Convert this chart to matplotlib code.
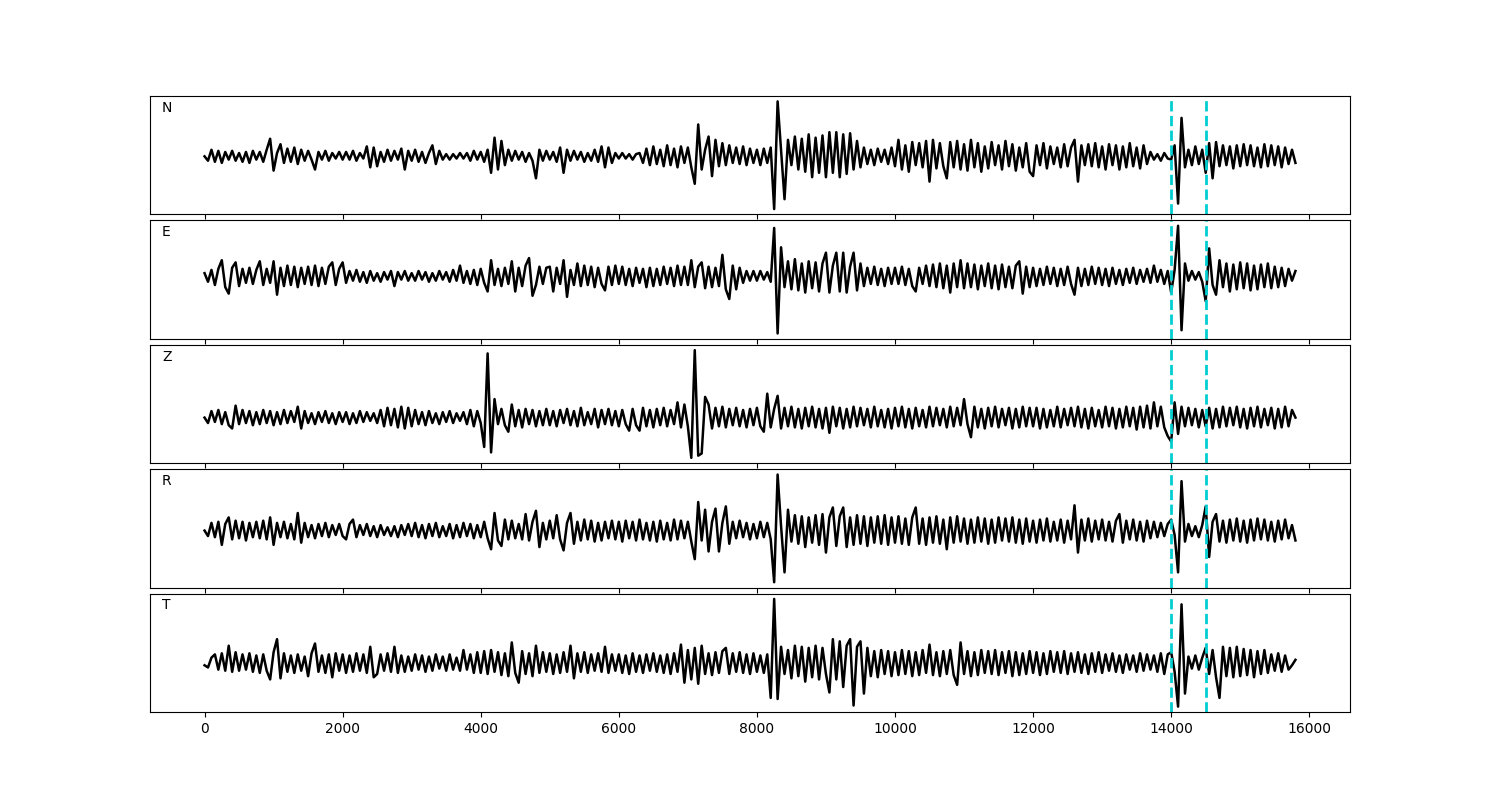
import matplotlib.pyplot as plt
import numpy as np

dt = 50  # sample spacing
picks = [14000, 14500]
names = ["N", "E", "Z", "R", "T"]

tr_n = [0,-4,6,-5,5,-6,4,-3,5,-4,3,-5,4,-6,5,-3,4,-5,6,16,
        -13,3,11,-6,7,-5,8,-7,6,-4,5,-3,-12,4,-3,5,-4,3,-2,4,
        -3,4,-3,5,-4,3,-2,9,-10,8,-9,4,-5,6,-4,5,-3,7,-12,5,
        -4,6,-5,4,-6,3,10,-7,5,-3,2,-3,2,-2,3,-2,3,-4,5,-3,
        4,-5,6,-15,17,-12,14,-8,6,-4,5,-3,4,-5,3,-4,-20,6,-4,5,
        -3,4,-5,8,-15,6,-4,5,-3,4,-5,3,-4,6,-5,9,-10,8,-6,3,
        -2,3,-2,2,-3,2,3,-6,7,-8,9,-7,6,-9,10,-8,7,-10,9,-6,
        8,-10,-25,29,-12,6,18,-18,15,-9,12,-8,10,-6,8,-7,9,-8,7,-6,
        6,-8,7,-6,8,-48,50,5,-39,15,-8,18,-12,16,-14,20,-19,17,-15,19,
        -19,22,-15,22,-19,20,-16,21,-12,14,-10,8,-7,6,-8,7,-5,6,-7,8,
        -9,15,-12,10,-14,13,-8,12,-10,14,-23,15,-11,12,-9,-20,13,-10,14,-12,
        11,-13,15,-10,12,-14,9,-11,13,-8,10,-12,14,-9,11,-13,8,-10,12,-14,
        -18,10,-8,12,-11,9,-7,8,-10,11,-9,8,15,-23,10,-8,11,-9,12,-10,
        9,-12,11,-8,10,-12,9,-10,12,-9,8,-11,10,-7,4,-3,2,-4,3,-2,
        -3,10,-43,35,-10,6,-8,9,-7,6,-15,12,-20,13,-9,10,-8,9,-11,10,
        -9,11,-8,10,-9,8,-10,11,-9,10,-8,9,-10,8,-7,6,-6]

tr_e = [3,-5,6,-8,7,15,-10,-16,8,13,-9,7,-6,8,-7,6,14,-8,7,-6,
        14,-17,8,-9,10,-8,9,-10,8,-7,9,-8,10,-9,8,-7,9,13,-8,7,
        13,-6,5,-4,6,-5,4,-6,5,-4,3,-5,4,-3,5,-9,4,-3,5,-4,
        3,-4,5,-3,4,-5,3,-4,5,-3,4,-5,6,-4,10,-6,5,-7,6,-8,
        7,-6,-14,15,-8,7,-9,8,-7,14,-14,8,-9,10,17,-18,-8,9,-7,8,
        9,-14,8,-7,15,-19,6,-8,12,-9,10,-8,9,-10,8,-7,-13,9,-8,10,
        -7,9,-8,7,-9,8,-6,7,-10,8,-9,7,-8,9,-7,8,-9,10,-8,9,
        -8,15,-10,9,13,-11,9,-10,8,-9,20,-12,-21,10,-12,8,-6,5,-4,5,
        -4,5,-3,4,-5,45,-53,27,-10,14,-12,16,-13,12,-15,14,-11,13,-14,12,
        22,-15,10,22,-14,22,-15,9,22,-13,12,-9,8,-7,9,-8,7,-9,8,-7,
        8,-7,9,-8,7,-9,-14,8,-7,10,-9,11,-10,12,-11,10,-15,12,-10,15,
        -11,12,-10,11,-12,10,-9,12,-11,10,-12,11,-10,9,-11,10,14,-16,9,-10,
        8,-9,7,-8,9,-7,8,-9,7,-8,9,-7,-17,8,-9,7,-8,9,-7,8,
        -8,7,-9,8,-7,6,-8,7,-6,8,-7,6,-5,7,-6,10,-5,6,-7,5,
        -15,6,47,-50,12,-4,5,-3,4,-5,-23,26,-8,-17,15,-10,12,-14,11,-12,
        13,-11,12,-13,10,-12,11,-10,12,-11,9,-10,8,-9,7,-4,5]

tr_z = [0,-5,6,-4,7,-6,5,-7,-10,11,-6,7,-5,6,-7,5,-6,7,-5,6,
        -7,5,-6,7,-5,6,-4,10,-10,6,-5,4,-6,5,-4,6,-5,4,-6,5,
        -4,5,-6,4,-5,6,-4,5,-3,4,-5,7,-8,9,-7,8,-9,10,-10,9,
        -8,7,-6,5,-7,6,-5,4,-6,5,-4,6,-5,4,-3,5,-6,7,-8,6,
        -5,-27,59,-32,17,-6,8,-7,-13,12,-8,7,-9,8,-6,7,-8,6,-7,8,
        -7,6,-8,7,-5,8,-7,6,-8,9,-7,5,-6,8,-9,7,-6,8,-7,6,
        -8,7,-6,-12,8,-7,-12,9,-8,7,-9,8,-7,9,-8,7,-6,14,-9,12,
        -8,-37,62,-35,-33,19,12,-10,9,-8,10,-9,8,-7,9,-8,7,-9,8,-7,
        9,-8,-13,22,-9,8,20,-10,9,-8,10,-9,8,-10,9,-8,10,-9,8,-10,
        9,-14,10,-8,9,-10,8,-9,10,-8,9,-7,8,-9,10,-8,7,-9,8,-10,
        9,-8,10,-9,8,-10,9,-8,7,-9,10,-8,9,-7,8,-9,10,-8,9,-7,
        17,-6,-18,10,-9,8,-10,9,-8,10,-9,8,-7,9,-10,8,-9,10,-8,9,
        -8,9,-10,8,-9,7,-8,10,-9,8,-7,9,-8,10,-9,8,-10,9,-8,7,
        -9,10,-8,9,-10,8,-9,10,-8,9,-11,10,-9,11,-10,14,-8,10,-9,-17,
        -22,14,-15,10,-8,9,-7,8,-9,7,-8,9,-10,8,-9,10,-8,9,-7,10,
        -9,8,-10,9,-8,10,-9,8,-7,9,-10,8,-9,10,-8,7,0]

tr_r = [0,-5,7,-6,8,-13,6,12,-8,9,-7,8,-9,7,-6,8,-7,9,-8,12,
        -13,7,-6,8,-7,6,-8,16,-11,7,-6,5,-7,6,-5,7,-6,5,-4,6,
        -5,-8,6,10,-6,5,-4,6,-5,4,-6,5,-4,3,-5,4,-6,5,-4,6,
        -5,7,-6,5,-7,6,-5,7,-6,4,-5,6,-7,5,-6,7,-5,6,-7,5,
        -6,8,-7,-17,16,-9,-14,10,-8,9,-7,6,-8,15,-9,8,18,-15,7,-8,
        9,-7,14,-8,-18,7,16,-12,8,-9,10,-8,9,-10,7,-9,8,-7,9,-8,
        8,-10,9,-7,8,-9,10,-8,7,-9,8,-10,9,-8,7,-9,10,-8,9,-7,
        8,-10,-26,26,-9,19,-19,8,20,-19,7,22,-12,8,-7,9,-6,7,-8,6,
        -7,8,-6,7,-8,-47,51,4,-38,19,-10,14,-12,13,-15,12,-11,14,-13,15,
        -20,12,21,-14,13,21,-15,12,-13,14,-12,13,-14,12,-11,13,-12,14,-13,12,
        -11,13,-12,11,-13,12,21,-12,11,-13,12,-11,13,-12,10,-17,12,-11,13,-10,
        11,-12,10,-11,12,-10,11,-12,10,-11,12,-9,11,-10,12,-11,10,-12,11,-10,
        9,-11,10,-9,11,-10,8,-9,10,-11,9,-8,23,-20,10,-9,11,-10,9,-8,
        10,-9,8,-10,9,15,-11,9,-8,10,-9,8,-10,9,-7,8,-6,7,-5,6,
        10,-4,-38,45,-10,6,-5,4,-6,5,22,-24,8,15,-10,9,-11,10,-9,11,
        -10,9,-11,10,-9,11,-8,10,-9,8,-10,9,-8,10,-7,5,-9]

tr_t = [-2,-4,5,8,-6,9,-7,16,-8,10,-7,8,-6,9,-8,7,-9,8,-7,-15,
        10,22,-14,9,-8,7,-9,8,-7,6,-12,9,18,-8,7,-9,8,-13,9,-7,
        8,-9,7,-8,9,-7,8,-9,15,-13,-10,8,-7,9,-8,15,-9,7,-8,6,
        -7,8,-6,7,-8,6,-7,8,-5,6,-7,8,-6,5,-7,12,-6,8,-9,10,
        -9,11,-10,12,-8,10,-11,9,-12,19,-9,-18,11,-10,9,-12,16,-9,10,-8,
        9,-10,8,-9,10,-8,16,-14,9,-8,10,-9,8,-7,9,-8,15,-9,8,-7,
        8,-9,7,-10,9,-8,7,-9,8,-7,9,-8,7,-9,8,-10,9,-8,17,-18,
        12,-15,14,-19,16,-10,9,-11,10,-9,11,14,-10,9,-8,10,-9,8,-10,9,
        -8,7,-9,8,-32,59,-33,15,-10,12,-14,16,-12,15,-17,14,-13,16,-15,14,
        -10,-27,22,-15,20,-22,16,22,-39,15,20,-28,14,-12,11,-13,12,-10,11,-12,
        10,-11,12,-10,11,-12,10,-11,12,-9,17,-11,10,-12,11,-10,12,-11,-20,19,
        -10,11,-12,10,-11,12,-9,11,-10,12,-11,10,-9,11,-12,10,-11,9,-10,11,
        -9,10,-11,9,-10,11,-8,10,-9,11,-10,9,-8,10,-9,8,-10,9,-8,10,
        -9,8,-7,9,-8,7,-9,8,-6,7,-8,9,-7,8,-6,7,-8,9,-10,8,
        10,-8,-40,54,-28,6,-5,7,-6,5,14,-10,12,-13,-32,15,-12,14,-13,15,
        -12,13,-11,12,-13,11,-10,12,-9,8,-7,9,-8,7,-6,-2,3]

traces = [tr_n, tr_e, tr_z, tr_r, tr_t]

fig, axes = plt.subplots(5, 1, figsize=(15, 8), sharex=True)
fig.subplots_adjust(left=0.1, right=0.9, top=0.88, bottom=0.11, hspace=0.05)

for ax, tr, name in zip(axes, traces, names):
    t = np.arange(len(tr)) * dt
    ax.plot(t, tr, color="black", lw=1.8)
    for p in picks:
        ax.axvline(p, color="darkturquoise", ls="--", lw=2)
    ax.set_yticks([])
    ax.text(0.01, 0.9, name, transform=ax.transAxes, ha="left", va="center")

plt.savefig("out.png", dpi=100)
plt.close(fig)
